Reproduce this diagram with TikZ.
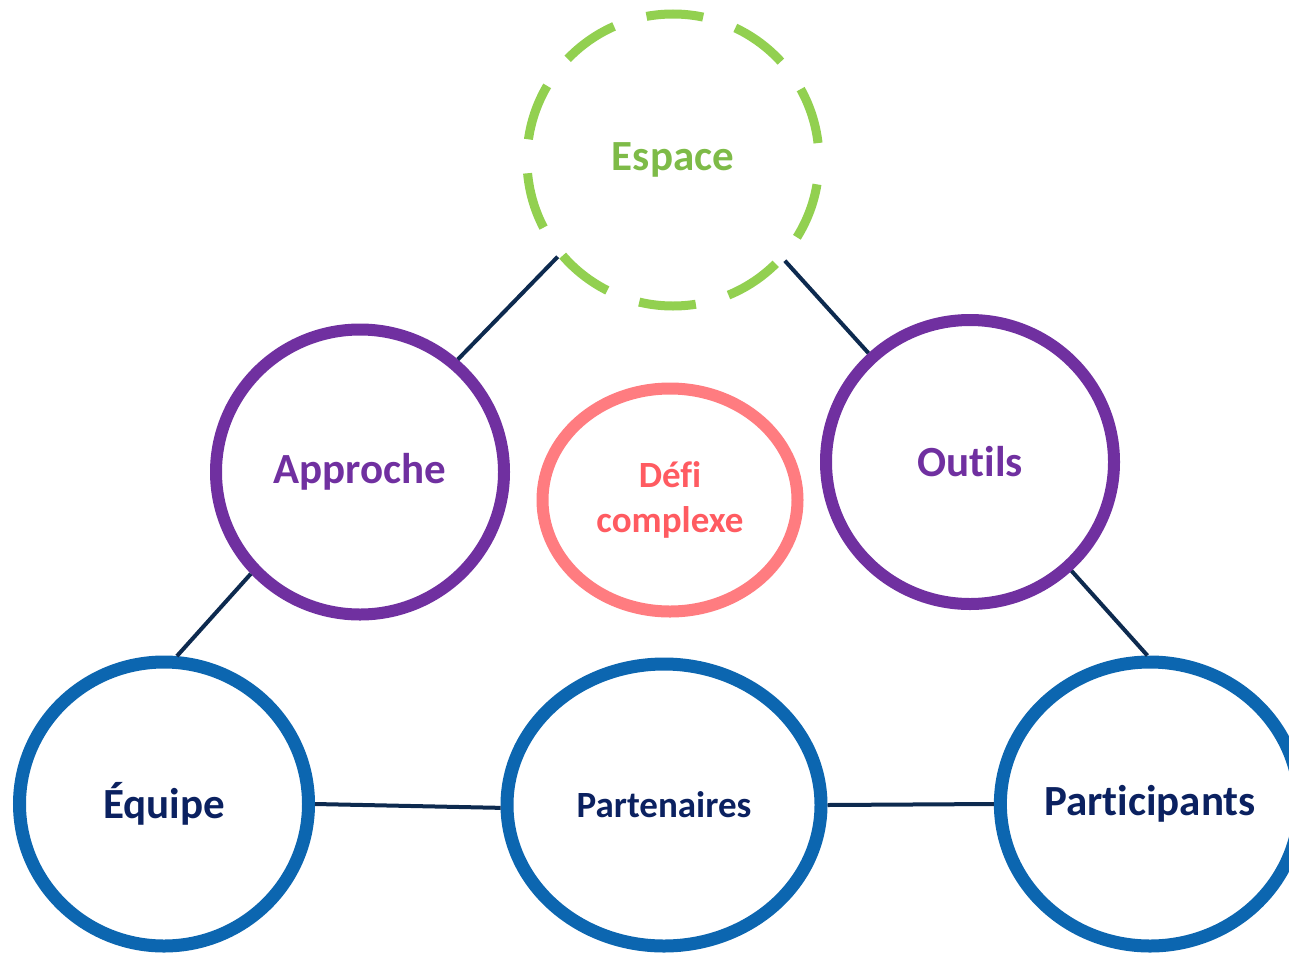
\documentclass[tikz,border=0pt]{standalone}
\usepackage{fontspec}
\setmainfont{Carlito}[Ligatures=NoCommon]
\usetikzlibrary{shapes.geometric}
\definecolor{espgreen}{HTML}{92D050}
\definecolor{esptext}{HTML}{7EBB48}
\definecolor{apppurple}{HTML}{7030A0}
\definecolor{defired}{HTML}{FF7C80}
\definecolor{defitext}{HTML}{FF5B61}
\definecolor{ringblue}{HTML}{0C66B0}
\definecolor{navytext}{HTML}{0B2160}
\definecolor{linknavy}{HTML}{0D2A4F}
\tikzset{
  ring/.style={ellipse, inner sep=0pt, font=\bfseries\fontsize{43}{45}\selectfont, align=center},
  purplering/.style={ring, draw=apppurple, line width=12pt, text=apppurple},
  bluering/.style={ring, draw=ringblue, line width=13pt, text=navytext},
  link/.style={draw=linknavy, line width=4pt}
}
\begin{document}
\begin{tikzpicture}[x=1pt,y=1pt]
\useasboundingbox (0,0) rectangle (1289,-953);
\node[ring, draw=espgreen, line width=9pt, dash pattern=on 57pt off 34pt, dash phase=74pt, text=esptext, minimum width=292pt, minimum height=292pt] (esp) at (673,-160){Espace};
\node[purplering, minimum width=288pt, minimum height=285pt] (app) at (360,-472){Approche};
\node[ring, draw=defired, line width=12pt, text=defitext, font=\bfseries\fontsize{37}{45}\selectfont, minimum width=255pt, minimum height=223pt] (defi) at (670,-500){Défi\\complexe};
\node[purplering, minimum width=288pt, minimum height=284pt] (out) at (970,-462){Outils};
\node[bluering, minimum width=289pt, minimum height=284pt] (equ) at (164,-804){Équipe};
\node[bluering, font=\bfseries\fontsize{37}{45}\selectfont, minimum width=314pt, minimum height=282pt] (par) at (664,-805){Partenaires};
\node[bluering, minimum width=289pt, minimum height=284pt] (pti) at (1150,-804){Participants};
\draw[link](esp.220) -- (app.49);
\draw[link](esp.-42) -- (out.133);
\draw[link](app.223) -- (equ.85);
\draw[link](out.-47) -- (pti.91);
\draw[link](equ.east) -- (par.181);
\draw[link](par.east) -- (pti.west);
\end{tikzpicture}
\end{document}
